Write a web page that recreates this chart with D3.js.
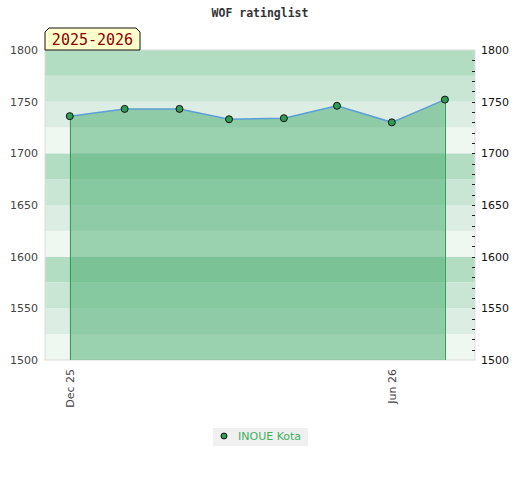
<!DOCTYPE html>
<html>
<head>
<meta charset="utf-8">
<script src="https://cdn.jsdelivr.net/npm/d3@7/dist/d3.min.js"></script>
<style>
  body { margin: 0; background: #fff; }
  svg { display: block; }
</style>
</head>
<body>
<svg id="svg"></svg>
<script>
// chart data
var dates = ["2025-12-01", "2026-01-01", "2026-02-01", "2026-03-01",
             "2026-04-01", "2026-05-01", "2026-06-01", "2026-07-01"];
var ratings = [1736, 1743, 1743, 1733, 1734, 1746, 1730, 1752];
var xTicks = ["2025-12-01", "2026-06-01"];
var xTickLabels = ["Dec 25", "Jun 26"];
var yTicks = [1500, 1550, 1600, 1650, 1700, 1750, 1800];
var bandEdges = d3.range(1500, 1800, 25);
var playerName = "INOUE Kota";
var seasonLabel = "2025-2026";
var title = "WOF ratinglist";

//////////////////////////////////////////////////////////////////////////////

var width = 520, height = 480;
var margin = {top: 50, right: 45, bottom: 120, left: 45};
var parse = d3.timeParse("%Y-%m-%d");

var svg = d3.select("#svg")
        .attr("width", width)
        .attr("height", height);

var x = d3.scaleTime()
        .domain([parse("2025-11-17"), parse("2026-07-18")])
        .range([margin.left, width - margin.right]);
var y = d3.scaleLinear()
        .domain([1500, 1800])
        .range([height - margin.bottom, margin.top]);

var points = dates.map(function(d, i) { return {date: parse(d), value: ratings[i]}; });

// background bands, 4 shades repeating every 100 points
var bandColors = ["#eff7f1", "#dcede3", "#c9e6d4", "#b3ddc3"];
svg.append("g").selectAll("rect")
    .data(bandEdges)
    .enter().append("rect")
    .attr("x", margin.left)
    .attr("width", width - margin.right - margin.left)
    .attr("y", function(d) { return y(d + 25); })
    .attr("height", function(d) { return y(d) - y(d + 25); })
    .attr("fill", function(d) { return bandColors[((d - 1500) / 25) % 4]; });

// plot frame
svg.append("rect")
    .attr("x", margin.left)
    .attr("y", margin.top)
    .attr("width", width - margin.right - margin.left)
    .attr("height", y(1500) - y(1800))
    .attr("fill", "none")
    .attr("stroke", "#dcdcdc")
    .attr("stroke-width", 1);

// area under the rating line
var area = d3.area()
        .x(function(d) { return x(d.date); })
        .y0(y(1500))
        .y1(function(d) { return y(d.value); });
svg.append("path")
    .datum(points)
    .attr("d", area)
    .attr("fill", "#3ba663")
    .attr("fill-opacity", 0.47);

// vertical edges of the area
var first = points[0], last = points[points.length - 1];
svg.append("g").selectAll("line")
    .data([first, last])
    .enter().append("line")
    .attr("x1", function(d) { return Math.round(x(d.date)) + 0.5; })
    .attr("x2", function(d) { return Math.round(x(d.date)) + 0.5; })
    .attr("y1", function(d) { return y(d.value); })
    .attr("y2", y(1500))
    .attr("stroke", "#2ea454")
    .attr("stroke-width", 1);

var line = d3.line()
        .x(function(d) { return x(d.date); })
        .y(function(d) { return y(d.value); });
svg.append("path")
    .datum(points)
    .attr("d", line)
    .attr("fill", "none")
    .attr("stroke", "#5b9fd6")
    .attr("stroke-width", 1.5);

svg.append("g").selectAll("circle")
    .data(points)
    .enter().append("circle")
    .attr("cx", function(d) { return x(d.date); })
    .attr("cy", function(d) { return y(d.value); })
    .attr("r", 3.5)
    .attr("fill", "#2f9e55")
    .attr("stroke", "#111")
    .attr("stroke-width", 1);

// left axis
var fmt = d3.format("d");
var leftAxis = svg.append("g")
    .attr("transform", "translate(" + margin.left + ",0)")
    .call(d3.axisLeft(y).tickValues(yTicks).tickFormat(fmt).tickSize(0).tickPadding(7));
leftAxis.select(".domain").remove();
leftAxis.selectAll("text")
    .attr("font-family", "DejaVu Sans, sans-serif")
    .attr("font-size", 11)
    .attr("fill", "#444");

// right axis: minor ticks every 10, labels every 50
var rx = width - margin.right;
svg.append("g").selectAll("line")
    .data(d3.range(1510, 1800, 10))
    .enter().append("line")
    .attr("x1", rx - 3)
    .attr("x2", rx)
    .attr("y1", function(d) { return Math.round(y(d)) + 0.5; })
    .attr("y2", function(d) { return Math.round(y(d)) + 0.5; })
    .attr("stroke", "#222")
    .attr("stroke-width", 1);
var rightAxis = svg.append("g")
    .attr("transform", "translate(" + rx + ",0)")
    .call(d3.axisRight(y).tickValues(yTicks).tickFormat(fmt).tickSize(0).tickPadding(6));
rightAxis.select(".domain").remove();
rightAxis.selectAll("text")
    .attr("font-family", "DejaVu Sans, sans-serif")
    .attr("font-size", 11)
    .attr("fill", "#111");

// bottom axis, rotated labels
var bottomAxis = svg.append("g")
    .attr("transform", "translate(0," + y(1500) + ")")
    .call(d3.axisBottom(x)
        .tickValues(xTicks.map(parse))
        .tickFormat(function(d, i) { return xTickLabels[i]; })
        .tickSize(0));
bottomAxis.select(".domain").remove();
bottomAxis.selectAll("text")
    .attr("font-family", "DejaVu Sans, sans-serif")
    .attr("font-size", 11)
    .attr("fill", "#444")
    .attr("transform", "rotate(-90)")
    .attr("text-anchor", "end")
    .attr("x", -9)
    .attr("y", 0)
    .attr("dy", "0.35em");

// title
svg.append("text")
    .attr("x", width / 2)
    .attr("y", 17)
    .attr("text-anchor", "middle")
    .attr("font-family", "DejaVu Sans Mono, monospace")
    .attr("font-weight", "bold")
    .attr("font-size", 11.5)
    .attr("fill", "#333")
    .text(title);

// season label box with chamfered top corners
var bx = margin.left, by = 28, bw = 95, bh = 22, c = 4;
svg.append("path")
    .attr("d", "M" + bx + "," + (by + bh) + " L" + bx + "," + (by + c) +
               " L" + (bx + c) + "," + by + " L" + (bx + bw - c) + "," + by +
               " L" + (bx + bw) + "," + (by + c) + " L" + (bx + bw) + "," + (by + bh) + " Z")
    .attr("fill", "#ffffcc")
    .attr("stroke", "#111")
    .attr("stroke-width", 1);
svg.append("text")
    .attr("x", bx + bw / 2)
    .attr("y", by + 17)
    .attr("text-anchor", "middle")
    .attr("font-family", "DejaVu Sans Mono, monospace")
    .attr("font-size", 15)
    .attr("fill", "#8b0000")
    .text(seasonLabel);

// legend
var lg = svg.append("g").attr("transform", "translate(213,428)");
lg.append("rect")
    .attr("width", 95)
    .attr("height", 18)
    .attr("fill", "#f0f0f0");
lg.append("circle")
    .attr("cx", 11)
    .attr("cy", 8)
    .attr("r", 3)
    .attr("fill", "#2f9e55")
    .attr("stroke", "#111")
    .attr("stroke-width", 1);
lg.append("text")
    .attr("x", 25)
    .attr("y", 12)
    .attr("font-family", "DejaVu Sans, sans-serif")
    .attr("font-size", 11)
    .attr("fill", "#3cb060")
    .text(playerName);
</script>
</body>
</html>
